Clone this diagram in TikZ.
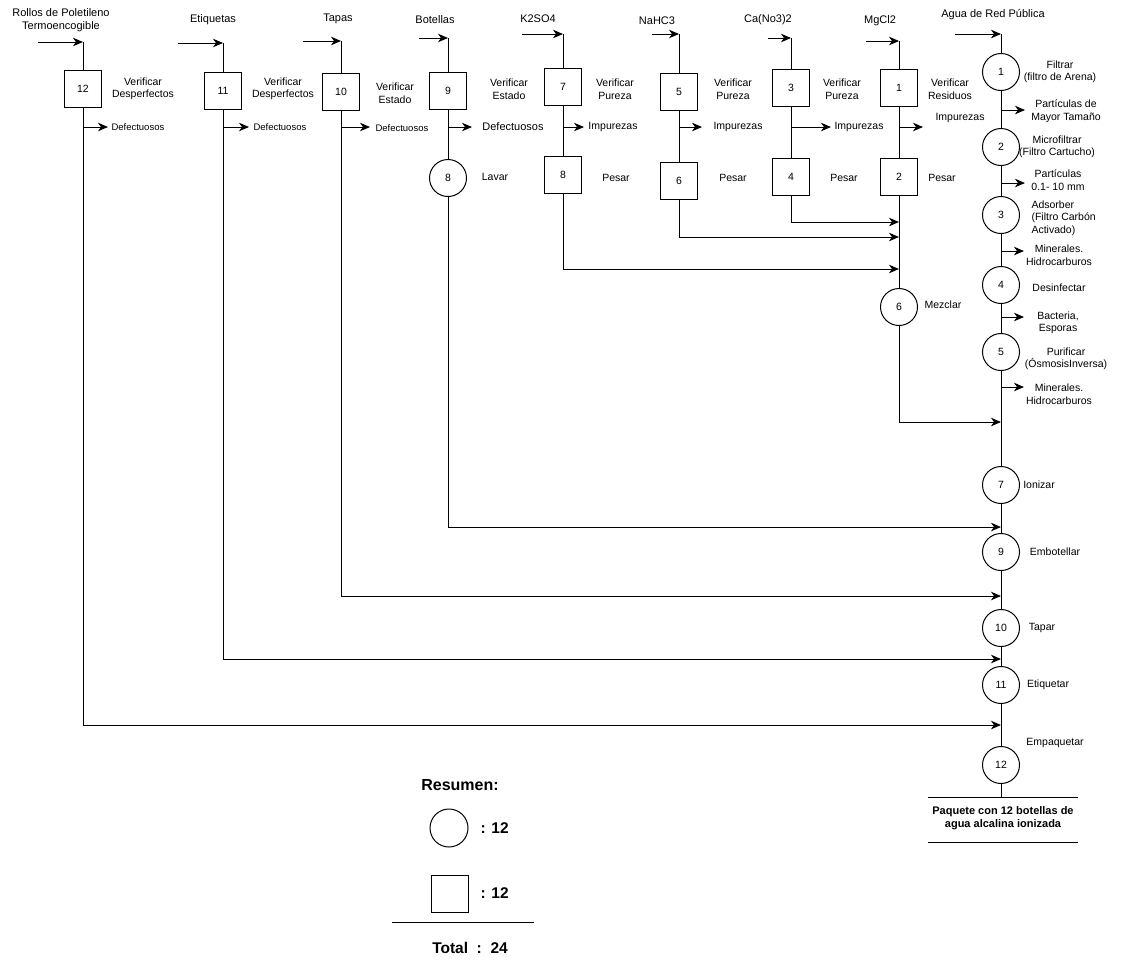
\documentclass[tikz,border=0pt]{standalone}
\usepackage{fontspec}
\setmainfont{Liberation Sans}
\usetikzlibrary{arrows.meta}
\begin{document}
\begin{tikzpicture}[x=1pt,y=-1pt,
  line width=1pt,
  lbl/.style={font=\fontsize{10.5}{12.5}\selectfont, align=center, inner sep=0pt},
  slbl/.style={font=\fontsize{9.5}{11}\selectfont, inner sep=0pt},
  hdr/.style={font=\fontsize{11}{13}\selectfont, align=center, inner sep=0pt},
  boxn/.style={draw, minimum width=37pt, minimum height=37pt, inner sep=0pt, font=\fontsize{10.5}{12}\selectfont},
  circn/.style={draw, circle, minimum size=37pt, inner sep=0pt, font=\fontsize{10.5}{12}\selectfont},
  arr/.style={-{Stealth[length=10pt,width=8.5pt,inset=3pt]}},
  bold/.style={font=\bfseries\fontsize{11}{13.5}\selectfont, align=center, inner sep=0pt},
  sumf/.style={font=\bfseries\fontsize{15.5}{18}\selectfont, inner sep=0pt}
]
\useasboundingbox (0,0) rectangle (1121,959);

% ---------- headers ----------
\node[hdr] (hRollos) at (61,20) {Rollos de Poletileno\\Termoencogible};
\node[hdr] (hEtiq) at (213,20) {Etiquetas};
\node[hdr] (hTapas) at (338,19) {Tapas};
\node[hdr] (hBot) at (435,20) {Botellas};
\node[hdr] (hK) at (538,19) {K2SO4};
\node[hdr] (hNa) at (657,21) {NaHC3};
\node[hdr] (hCa) at (768,20) {Ca(No3)2};
\node[hdr] (hMg) at (880,21) {MgCl2};
\node[hdr] (hAgua) at (993,15) {Agua de Red Pública};

% ---------- input arrows ----------
\coordinate (sA) at (38,42);  \coordinate (tA) at (83,42);
\coordinate (sB) at (178,43); \coordinate (tB) at (223,43);
\coordinate (sC) at (303,41); \coordinate (tC) at (341,41);
\coordinate (sD) at (419,38); \coordinate (tD) at (448,38);
\coordinate (sE) at (522,34); \coordinate (tE) at (563,34);
\coordinate (sF) at (652,34); \coordinate (tF) at (679,34);
\coordinate (sG) at (768,38); \coordinate (tG) at (791,38);
\coordinate (sH) at (866,41); \coordinate (tH) at (899,41);
\coordinate (sW) at (955,34); \coordinate (tW) at (1001,34);
\foreach \c in {A,B,C,D,E,F,G,H,W} {\draw[arr] (s\c) -- (t\c);}

% ---------- column A: Rollos ----------
\node[boxn] (b12) at (83,89) {12};
\node[lbl] (lb12) at (143,89) {Verificar\\Desperfectos};
\coordinate (dA) at (83,127); \coordinate (dAe) at (108,127);
\node[slbl, anchor=west] (tdA) at (111,127) {Defectuosos};
\draw (tA) -- (b12.north);
\coordinate (jA) at (83,725); \coordinate (mA) at (1001,725);
\draw[arr] (b12.south) -- (jA) -- (mA);
\draw[arr] (dA) -- (dAe);

% ---------- column B: Etiquetas ----------
\node[boxn] (b11) at (223,91) {11};
\node[lbl] (lb11) at (283,89) {Verificar\\Desperfectos};
\coordinate (dB) at (223,127); \coordinate (dBe) at (249,127);
\node[slbl, anchor=west] (tdB) at (253,127) {Defectuosos};
\draw (tB) -- (b11.north);
\coordinate (jB) at (223,659); \coordinate (mB) at (1001,659);
\draw[arr] (b11.south) -- (jB) -- (mB);
\draw[arr] (dB) -- (dBe);

% ---------- column C: Tapas ----------
\node[boxn] (b10) at (341,92) {10};
\node[lbl] (lb10) at (395,93) {Verificar\\Estado};
\coordinate (dC) at (341,127); \coordinate (dCe) at (370,127);
\node[slbl, anchor=west] (tdC) at (375,128) {Defectuosos};
\draw (tC) -- (b10.north);
\coordinate (jC) at (341,596); \coordinate (mC) at (1001,596);
\draw[arr] (b10.south) -- (jC) -- (mC);
\draw[arr] (dC) -- (dCe);

% ---------- column D: Botellas ----------
\node[boxn] (b9) at (448,91) {9};
\node[lbl] (lb9) at (509,89) {Verificar\\Estado};
\coordinate (dD) at (448,127); \coordinate (dDe) at (472,127);
\node[lbl, font=\fontsize{11}{13}\selectfont] (tdD) at (513,127) {Defectuosos};
\node[circn] (c8) at (448,178) {8};
\node[lbl] (lc8) at (495,177) {Lavar};
\draw (tD) -- (b9.north);
\draw (b9.south) -- (c8.north);
\draw[arr] (dD) -- (dDe);
\coordinate (jD) at (448,527); \coordinate (mD) at (1001,527);
\draw[arr] (c8.south) -- (jD) -- (mD);

% ---------- column E: K2SO4 ----------
\node[boxn] (b7) at (563,87) {7};
\node[lbl] (lb7) at (615,89) {Verificar\\Pureza};
\coordinate (dE) at (563,127); \coordinate (dEe) at (584,127);
\node[lbl] (tdE) at (613,127) {Impurezas};
\node[boxn] (b8) at (563,175) {8};
\node[lbl] (lb8) at (616,178) {Pesar};
\draw (tE) -- (b7.north);
\draw (b7.south) -- (b8.north);
\draw[arr] (dE) -- (dEe);
\coordinate (jE) at (563,269); \coordinate (mE) at (899,269);
\draw[arr] (b8.south) -- (jE) -- (mE);

% ---------- column F: NaHC3 ----------
\node[boxn] (b5) at (679,92) {5};
\node[lbl] (lb5) at (733,89) {Verificar\\Pureza};
\coordinate (dF) at (679,127); \coordinate (dFe) at (702,127);
\node[lbl, anchor=west] (tdF) at (713,127) {Impurezas};
\node[boxn] (b6) at (679,181) {6};
\node[lbl] (lb6) at (733,178) {Pesar};
\draw (tF) -- (b5.north);
\draw (b5.south) -- (b6.north);
\draw[arr] (dF) -- (dFe);
\coordinate (jF) at (679,237); \coordinate (mF) at (899,237);
\draw[arr] (b6.south) -- (jF) -- (mF);

% ---------- column G: Ca(No3)2 ----------
\node[boxn] (b3) at (791,88) {3};
\node[lbl] (lb3) at (842,89) {Verificar\\Pureza};
\coordinate (dG) at (791,127); \coordinate (dGe) at (831,127);
\node[lbl, anchor=west] (tdG) at (834,127) {Impurezas};
\node[boxn] (b4) at (791,177) {4};
\node[lbl] (lb4) at (844,178) {Pesar};
\draw (tG) -- (b3.north);
\draw (b3.south) -- (b4.north);
\draw[arr] (dG) -- (dGe);
\coordinate (jG) at (791,222); \coordinate (mG) at (899,222);
\draw[arr] (b4.south) -- (jG) -- (mG);

% ---------- column H: MgCl2 ----------
\node[boxn] (b1) at (899,88) {1};
\node[lbl] (lb1) at (950,89) {Verificar\\Residuos};
\coordinate (dH) at (899,127); \coordinate (dHe) at (923,127);
\node[lbl] (tdH) at (960,118) {Impurezas};
\node[boxn] (b2) at (899,177) {2};
\node[lbl] (lb2) at (942,178) {Pesar};
\node[circn] (c6) at (899,307) {6};
\node[lbl] (lc6) at (943,305) {Mezclar};
\draw (tH) -- (b1.north);
\draw (b1.south) -- (b2.north);
\draw (b2.south) -- (c6.north);
\draw[arr] (dH) -- (dHe);
\coordinate (jH) at (899,422); \coordinate (mH) at (1001,422);
\draw[arr] (c6.south) -- (jH) -- (mH);

% ---------- main column: water ----------
\node[circn] (c1) at (1001,72) {1};
\node[lbl] (lc1) at (1060,72) {Filtrar\\(filtro de Arena)};
\node[circn] (c2) at (1001,147) {2};
\node[lbl] (lc2) at (1057,147) {Microfiltrar\\(Filtro Cartucho)};
\node[circn] (c3) at (1001,215) {3};
\node[lbl, align=left, anchor=west] (lc3) at (1031,218) {Adsorber\\(Filtro Carbón\\Activado)};
\node[circn] (c4) at (1001,285) {4};
\node[lbl] (lc4) at (1059,288) {Desinfectar};
\node[circn] (c5) at (1001,352) {5};
\node[lbl] (lc5) at (1066,359) {Purificar\\(ÓsmosisInversa)};
\node[circn] (c7) at (1001,485) {7};
\node[lbl] (lc7) at (1039,485) {Ionizar};
\node[circn] (c9) at (1001,552) {9};
\node[lbl] (lc9) at (1055,552) {Embotellar};
\node[circn] (c10) at (1001,628) {10};
\node[lbl] (lc10) at (1042,628) {Tapar};
\node[circn] (c11) at (1001,685) {11};
\node[lbl] (lc11) at (1048,685) {Etiquetar};
\node[circn] (c12) at (1001,765) {12};
\node[lbl] (lc12) at (1055,743) {Empaquetar};

\draw (tW) -- (c1.north);
\draw (c1.south) -- (c2.north);
\draw (c2.south) -- (c3.north);
\draw (c3.south) -- (c4.north);
\draw (c4.south) -- (c5.north);
\draw (c5.south) -- (c7.north);
\draw (c7.south) -- (c9.north);
\draw (c9.south) -- (c10.north);
\draw (c10.south) -- (c11.north);
\draw (c11.south) -- (c12.north);
\coordinate (endW) at (1001,797);
\draw (c12.south) -- (endW);

% side outputs of main column
\coordinate (o1) at (1001,110); \coordinate (o1e) at (1025,110);
\node[lbl] (to1) at (1066,111) {Partículas de\\Mayor Tamaño};
\coordinate (o2) at (1001,183); \coordinate (o2e) at (1025,183);
\node[lbl] (to2) at (1058,180) {Partículas\\0.1- 10 mm};
\coordinate (o3) at (1001,251); \coordinate (o3e) at (1024,251);
\node[lbl] (to3) at (1059,255) {Minerales.\\Hidrocarburos};
\coordinate (o4) at (1001,317); \coordinate (o4e) at (1024,317);
\node[lbl] (to4) at (1058,323) {Bacteria,\\Esporas};
\coordinate (o5) at (1001,387); \coordinate (o5e) at (1024,387);
\node[lbl] (to5) at (1059,394) {Minerales.\\Hidrocarburos};
\foreach \o in {o1,o2,o3,o4,o5} {\draw[arr] (\o) -- (\o e);}

% product
\coordinate (pl1) at (928,797); \coordinate (pr1) at (1078,797);
\coordinate (pl2) at (928,842); \coordinate (pr2) at (1078,842);
\draw (pl1) -- (pr1);
\draw (pl2) -- (pr2);
\node[bold] (prod) at (1003,818) {Paquete con 12 botellas de\\agua alcalina ionizada};

% ---------- summary ----------
\node[font=\bfseries\fontsize{16}{19}\selectfont, inner sep=0pt] (res) at (460,785) {Resumen:};
\node[circn, minimum size=38pt] (sc) at (449,828) {};
\node[sumf, anchor=west] (scn) at (480,828) {: 12};
\node[boxn] (sb) at (449.5,893.5) {};
\node[sumf, anchor=west] (sbn) at (480,893) {: 12};
\coordinate (tl) at (392,922); \coordinate (tr) at (534,922);
\draw (tl) -- (tr);
\node[sumf] (tot) at (470,948) {Total\ \ :\ \ 24};
\end{tikzpicture}
\end{document}
